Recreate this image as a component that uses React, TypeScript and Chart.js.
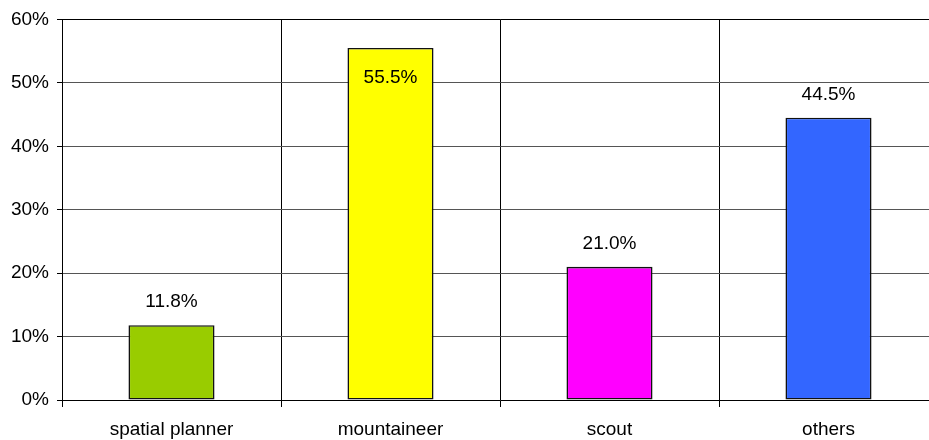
import React, { useEffect, useRef } from "react";
import { Chart, registerables } from "chart.js";

Chart.register(...registerables);

const categories = ["spatial planner", "mountaineer", "scout", "others"];
const values = [11.8, 55.5, 21.0, 44.5];
const barColors = ["#99CC00", "#FFFF00", "#FF00FF", "#3366FF"];
const labelInside = [false, true, false, false];
const yTicks = [0, 10, 20, 30, 40, 50, 60];

const FONT = "'Liberation Sans', Arial, sans-serif";

const labelPlugin = {
  id: "barLabels",
  afterDatasetsDraw(chart: any) {
    const ctx = chart.ctx;
    const meta = chart.getDatasetMeta(0);
    ctx.save();
    ctx.font = `19px ${FONT}`;
    ctx.fillStyle = "#000";
    ctx.textAlign = "center";
    ctx.textBaseline = "middle";
    meta.data.forEach((el: any, i: number) => {
      const txt = values[i].toFixed(1) + "%";
      const y = labelInside[i] ? el.y + 30 : el.y - 23;
      ctx.fillText(txt, el.x, y);
    });
    ctx.restore();
  },
};

export default function App() {
  const ref = useRef<HTMLCanvasElement>(null);
  useEffect(() => {
    if (!ref.current) return;
    const chart = new Chart(ref.current, {
      type: "bar",
      data: {
        labels: categories,
        datasets: [
          {
            data: values,
            backgroundColor: barColors,
            borderColor: "#111",
            borderWidth: 1.6,
            borderSkipped: false,
            inflateAmount: 0,
            categoryPercentage: 1,
            barPercentage: 0.393,
          },
        ],
      },
      options: {
        responsive: false,
        animation: false,
        layout: { padding: { top: 17, right: 22, left: 0, bottom: 0 } },
        plugins: { legend: { display: false }, tooltip: { enabled: false } },
        scales: {
          x: {
            afterFit: (s: any) => {
              s.height = 40;
            },
            grid: {
              offset: true,
              color: "#000",
              tickColor: "#000",
              tickLength: 7,
              lineWidth: 1,
            },
            border: { color: "#000", width: 1 },
            ticks: {
              color: "#000",
              font: { family: FONT, size: 19 },
              padding: 11,
              maxRotation: 0,
            },
          },
          y: {
            min: 0,
            max: 60,
            afterFit: (s: any) => {
              s.width = 62;
            },
            afterBuildTicks: (s: any) => {
              s.ticks = yTicks.map((v) => ({ value: v }));
            },
            grid: {
              color: (c: any) => (c.tick && c.tick.value === 60 ? "#000" : "#555"),
              tickColor: "#000",
              tickLength: 5,
              lineWidth: 1,
            },
            border: { color: "#000", width: 1 },
            ticks: {
              color: "#000",
              font: { family: FONT, size: 19 },
              padding: 8,
              callback: (v: any) => v + "%",
            },
          },
        },
      },
      plugins: [labelPlugin],
    });
    return () => chart.destroy();
  }, []);
  return (
    <div
      style={{
        position: "fixed",
        left: 0,
        top: 0,
        width: 929,
        height: 440,
        overflow: "hidden",
        background: "#fff",
      }}
    >
      <canvas ref={ref} width={960} height={440} style={{ width: 960, height: 440, display: "block" }} />
    </div>
  );
}
